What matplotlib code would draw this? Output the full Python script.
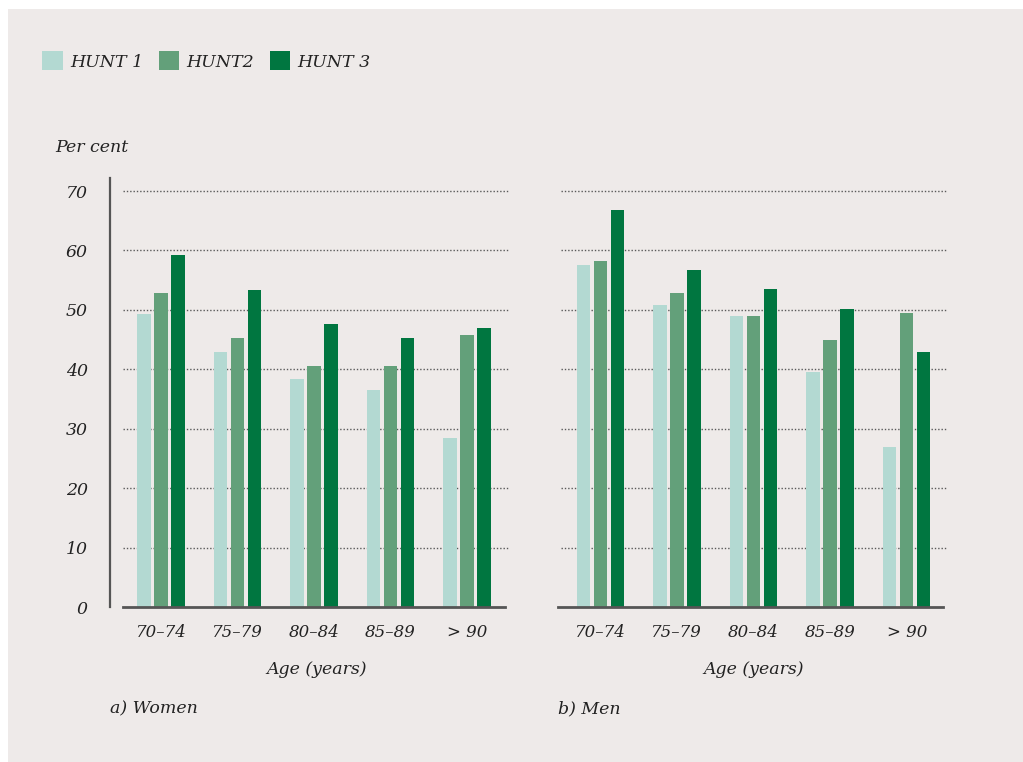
import numpy as np
import matplotlib
matplotlib.use("Agg")
import matplotlib.pyplot as plt
from matplotlib.patches import Patch, Rectangle

# === Data ===
age_groups = ["70–74", "75–79", "80–84", "85–89", "> 90"]
series = ["HUNT 1", "HUNT2", "HUNT 3"]
women_hunt1 = [49.3, 42.9, 38.4, 36.5, 28.5]
women_hunt2 = [52.9, 45.3, 40.6, 40.6, 45.8]
women_hunt3 = [59.3, 53.4, 47.6, 45.3, 47.0]
men_hunt1 = [57.5, 50.8, 48.9, 39.6, 26.9]
men_hunt2 = [58.2, 52.8, 48.9, 44.9, 49.5]
men_hunt3 = [66.8, 56.8, 53.5, 50.2, 42.9]
yticks = [0, 10, 20, 30, 40, 50, 60, 70]

colors = ["#b3d9d2", "#63a07a", "#007640"]
bg = "#eeeae9"
txt = "#222222"

plt.rcParams["font.family"] = ["DejaVu Serif"]
plt.rcParams["font.style"] = "italic"

W, H = 1023, 762
fig = plt.figure(figsize=(W / 100, H / 100), dpi=100, facecolor="white")
fig.add_artist(Rectangle((8 / W, 0), 1, (H - 9) / H, transform=fig.transFigure,
                         facecolor=bg, edgecolor="none", zorder=-10))


def px_axes(x0, x1, y_top, y_bot):
    return fig.add_axes([x0 / W, (H - y_bot) / H, (x1 - x0) / W, (y_bot - y_top) / H])


ax_w = px_axes(123, 510, 178, 607)
ax_m = px_axes(561, 947, 178, 607)

panels = [
    (ax_w, [women_hunt1, women_hunt2, women_hunt3], (-0.497, 4.562), (-0.5, 4.5), True, "a) Women", 110),
    (ax_m, [men_hunt1, men_hunt2, men_hunt3], (-0.513, 4.526), (-0.55, 4.47), False, "b) Men", 558),
]

x = np.arange(len(age_groups))
step = 0.222
width = 0.176

for ax, vals, xlim, base, show_y, title, tx in panels:
    ax.set_facecolor("none")
    ax.set_xlim(*xlim)
    ax.set_ylim(0, 72.2)
    for yv in yticks[1:]:
        ax.axhline(yv, color="#5a5a5a", lw=1.0, ls=(0, (1, 1.4)), zorder=1)
    for i, v in enumerate(vals):
        ax.bar(x + (i - 1) * step, v, width=width, color=colors[i], zorder=2)
    ax.plot(base, [0, 0], color="#555555", lw=2, clip_on=False, zorder=3)

    for s in ["top", "right", "bottom"]:
        ax.spines[s].set_visible(False)
    ax.set_xticks(x)
    ax.set_xticklabels(age_groups, fontsize=12, color=txt)
    ax.tick_params(axis="x", length=0, pad=12)
    ax.set_xlabel("Age (years)", fontsize=12.5, color=txt, labelpad=15)

    if show_y:
        ax.spines["left"].set_position(("outward", 9.4))
        ax.spines["left"].set_bounds(0, 72.2)
        ax.spines["left"].set_color("#555555")
        ax.spines["left"].set_linewidth(1.6)
        ax.set_yticks(yticks)
        ax.set_yticklabels([str(t) for t in yticks], fontsize=12.5, color=txt)
        ax.tick_params(axis="y", length=0, pad=16)
    else:
        ax.spines["left"].set_visible(False)
        ax.set_yticks([])

    fig.text(tx / W, (H - 709) / H, title, fontsize=12.5, color=txt, va="center", ha="left")

fig.text(55 / W, (H - 148) / H, "Per cent", fontsize=12.5, color=txt, va="center", ha="left")

handles = [Patch(facecolor=c, edgecolor="none") for c in colors]
fig.legend(handles, series, loc="center left", bbox_to_anchor=(42 / W, (H - 61) / H),
           ncol=3, frameon=False, fontsize=12.5, handlelength=1.2, handleheight=1.3,
           handletextpad=0.4, columnspacing=0.9, borderpad=0, borderaxespad=0,
           labelcolor=txt)

fig.savefig("out.png", dpi=100, facecolor="white")
